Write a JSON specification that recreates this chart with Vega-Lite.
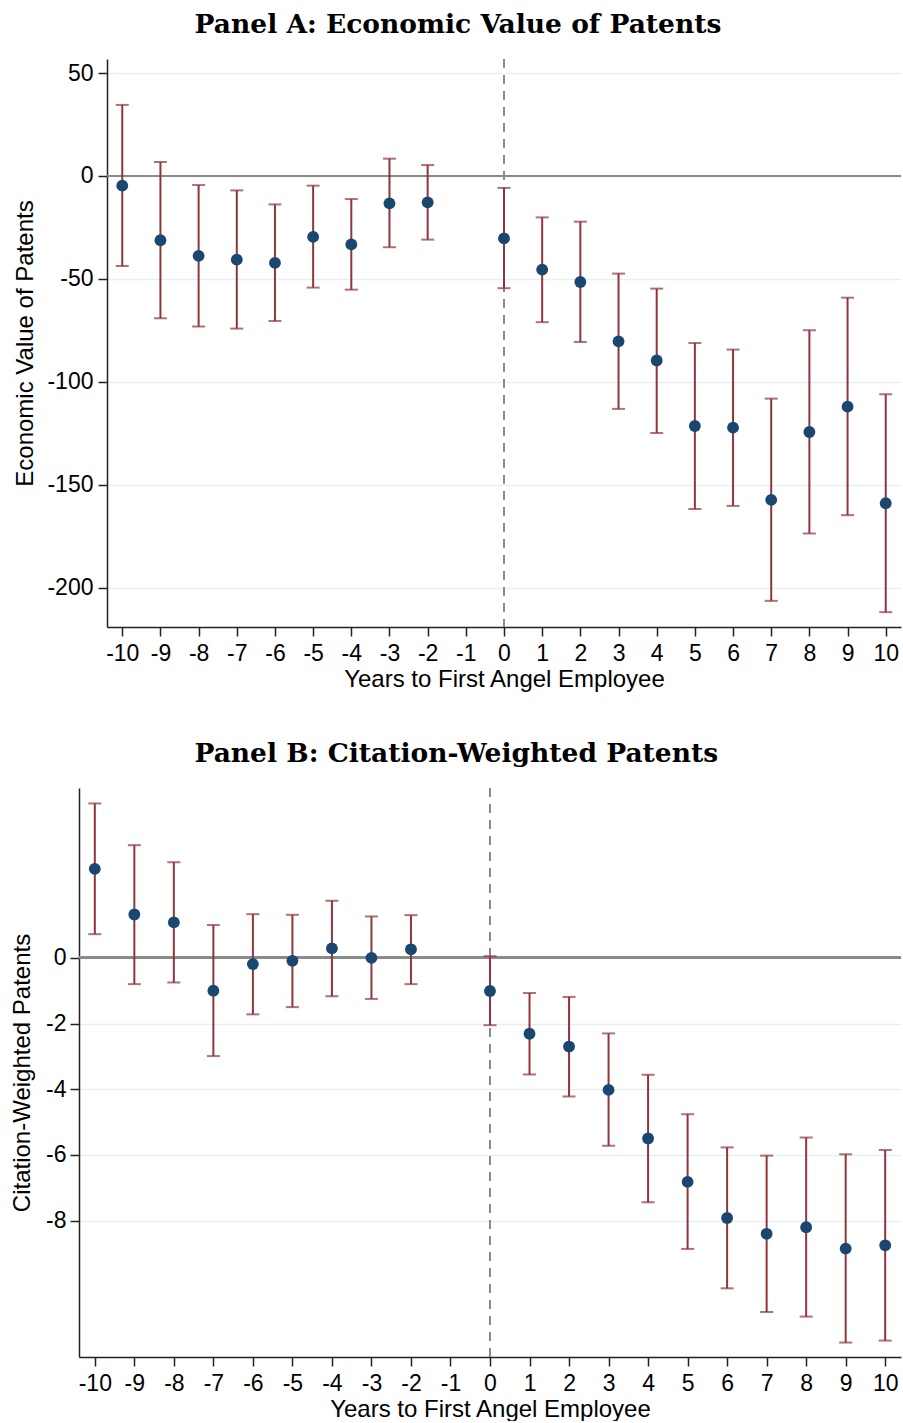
{
  "$schema": "https://vega.github.io/schema/vega-lite/v6.json",
  "background": "white",
  "padding": {"left": 10, "top": 11, "right": 1, "bottom": 0},
  "config": {
    "view": {"stroke": null},
    "font": "Liberation Sans",
    "axis": {
      "labelFont": "Liberation Sans", "titleFont": "Liberation Sans",
      "labelFontSize": 23, "titleFontSize": 24, "titleFontWeight": "normal",
      "labelColor": "#000", "titleColor": "#000",
      "domainColor": "#222", "domainWidth": 1.5,
      "tickColor": "#222", "tickWidth": 1.5, "tickSize": 9,
      "gridColor": "#e6eff2", "gridWidth": 1.5, "labelOverlap": false
    },
    "title": {"font": "DejaVu Serif", "fontSize": 26.5, "fontWeight": "bold", "color": "#000", "anchor": "middle", "frame": "bounds", "offset": 20}
  },
  "datasets": {
    "a": [
      {"t": -10, "b": -4.7, "lo": -43.7, "hi": 34.5},
      {"t": -9, "b": -31.2, "lo": -69.1, "hi": 6.8},
      {"t": -8, "b": -38.8, "lo": -73.1, "hi": -4.4},
      {"t": -7, "b": -40.6, "lo": -74.1, "hi": -7.0},
      {"t": -6, "b": -42.2, "lo": -70.4, "hi": -13.8},
      {"t": -5, "b": -29.6, "lo": -54.2, "hi": -4.7},
      {"t": -4, "b": -33.2, "lo": -55.2, "hi": -11.2},
      {"t": -3, "b": -13.3, "lo": -34.6, "hi": 8.4},
      {"t": -2, "b": -12.8, "lo": -30.9, "hi": 5.3},
      {"t": 0, "b": -30.3, "lo": -54.5, "hi": -5.8},
      {"t": 1, "b": -45.5, "lo": -71.0, "hi": -20.1},
      {"t": 2, "b": -51.5, "lo": -80.6, "hi": -22.2},
      {"t": 3, "b": -80.3, "lo": -113.1, "hi": -47.4},
      {"t": 4, "b": -89.6, "lo": -124.8, "hi": -54.7},
      {"t": 5, "b": -121.4, "lo": -161.7, "hi": -81.1},
      {"t": 6, "b": -122.2, "lo": -160.2, "hi": -84.3},
      {"t": 7, "b": -157.3, "lo": -206.3, "hi": -108.1},
      {"t": 8, "b": -124.3, "lo": -173.6, "hi": -74.9},
      {"t": 9, "b": -112.0, "lo": -164.7, "hi": -59.1},
      {"t": 10, "b": -158.9, "lo": -211.8, "hi": -106.0}
    ],
    "b": [
      {"t": -10, "b": 2.71, "lo": 0.72, "hi": 4.70},
      {"t": -9, "b": 1.32, "lo": -0.80, "hi": 3.43},
      {"t": -8, "b": 1.08, "lo": -0.75, "hi": 2.91},
      {"t": -7, "b": -1.00, "lo": -2.99, "hi": 1.00},
      {"t": -6, "b": -0.19, "lo": -1.72, "hi": 1.33},
      {"t": -5, "b": -0.09, "lo": -1.50, "hi": 1.31},
      {"t": -4, "b": 0.29, "lo": -1.17, "hi": 1.74},
      {"t": -3, "b": 0.0, "lo": -1.25, "hi": 1.26},
      {"t": -2, "b": 0.26, "lo": -0.80, "hi": 1.30},
      {"t": 0, "b": -1.01, "lo": -2.05, "hi": 0.05},
      {"t": 1, "b": -2.31, "lo": -3.55, "hi": -1.07},
      {"t": 2, "b": -2.70, "lo": -4.22, "hi": -1.19},
      {"t": 3, "b": -4.02, "lo": -5.72, "hi": -2.30},
      {"t": 4, "b": -5.50, "lo": -7.44, "hi": -3.56},
      {"t": 5, "b": -6.82, "lo": -8.86, "hi": -4.76},
      {"t": 6, "b": -7.92, "lo": -10.06, "hi": -5.77},
      {"t": 7, "b": -8.40, "lo": -10.78, "hi": -6.02},
      {"t": 8, "b": -8.20, "lo": -10.92, "hi": -5.47},
      {"t": 9, "b": -8.85, "lo": -11.71, "hi": -5.98},
      {"t": 10, "b": -8.75, "lo": -11.65, "hi": -5.85}
    ]
  },
  "concat": [
    {
      "width": 822, "height": 568,
      "title": {"text": "Panel A: Economic Value of Patents"},
      "data": {"name": "a"},
      "layer": [
        {"mark": {"type": "rule", "color": "#8a8a8a", "strokeWidth": 2},
         "encoding": {"y": {"datum": 0, "type": "quantitative", "title": "Economic Value of Patents"},
                      "x": {"datum": -10.4, "type": "quantitative", "title": "Years to First Angel Employee"},
                      "x2": {"datum": 10.4}}},
        {"mark": {"type": "rule", "color": "#8a8a8a", "strokeWidth": 1.5, "strokeDash": [9, 7]},
         "encoding": {"x": {"datum": 0, "type": "quantitative", "title": "Years to First Angel Employee"}}},
        {"mark": {"type": "rule", "color": "#90353b", "strokeWidth": 2},
         "encoding": {
           "x": {"field": "t", "type": "quantitative", "title": "Years to First Angel Employee",
                 "scale": {"domain": [-10.4, 10.4], "range": [28, 822], "nice": false, "zero": false},
                 "axis": {"values": [-10,-9,-8,-7,-6,-5,-4,-3,-2,-1,0,1,2,3,4,5,6,7,8,9,10], "grid": false, "labelExpr": "'' + datum.value", "labelPadding": 6, "titlePadding": 2, "labelFlush": false, "titleX": 425}},
           "y": {"field": "lo", "type": "quantitative", "title": "Economic Value of Patents",
                 "scale": {"domain": [-219, 56.8], "nice": false, "zero": false},
                 "axis": {"values": [50, 0, -50, -100, -150, -200], "grid": true, "labelExpr": "'' + datum.value", "labelPadding": 5, "titlePadding": 9, "offset": -28}},
           "y2": {"field": "hi"}
         }},
        {"mark": {"type": "tick", "orient": "horizontal", "color": "#90353b", "thickness": 2, "size": 13},
         "encoding": {"x": {"field": "t", "type": "quantitative", "title": "Years to First Angel Employee"},
                      "y": {"field": "lo", "type": "quantitative", "title": "Economic Value of Patents"}}},
        {"mark": {"type": "tick", "orient": "horizontal", "color": "#90353b", "thickness": 2, "size": 13},
         "encoding": {"x": {"field": "t", "type": "quantitative", "title": "Years to First Angel Employee"},
                      "y": {"field": "hi", "type": "quantitative", "title": "Economic Value of Patents"}}},
        {"mark": {"type": "point", "filled": true, "color": "#1a476f", "size": 140, "opacity": 1},
         "encoding": {"x": {"field": "t", "type": "quantitative", "title": "Years to First Angel Employee"},
                      "y": {"field": "b", "type": "quantitative", "title": "Economic Value of Patents"}}}
      ]
    },
    {
      "width": 822, "height": 569,
      "title": {"text": "Panel B: Citation-Weighted Patents"},
      "data": {"name": "b"},
      "layer": [
        {"mark": {"type": "rule", "color": "#8a8a8a", "strokeWidth": 2},
         "encoding": {"y": {"datum": 0, "type": "quantitative", "title": "Citation-Weighted Patents"}}},
        {"mark": {"type": "rule", "color": "#8a8a8a", "strokeWidth": 1.5, "strokeDash": [9, 7]},
         "encoding": {"x": {"datum": 0, "type": "quantitative", "title": "Years to First Angel Employee"}}},
        {"mark": {"type": "rule", "color": "#90353b", "strokeWidth": 2},
         "encoding": {
           "x": {"field": "t", "type": "quantitative", "title": "Years to First Angel Employee",
                 "scale": {"domain": [-10.4, 10.4], "nice": false, "zero": false},
                 "axis": {"values": [-10,-9,-8,-7,-6,-5,-4,-3,-2,-1,0,1,2,3,4,5,6,7,8,9,10], "grid": false, "labelExpr": "'' + datum.value", "labelPadding": 6, "titlePadding": 2, "labelFlush": false}},
           "y": {"field": "lo", "type": "quantitative", "title": "Citation-Weighted Patents",
                 "scale": {"domain": [-12.15, 5.17], "nice": false, "zero": false},
                 "axis": {"values": [0, -2, -4, -6, -8], "grid": true, "labelExpr": "'' + datum.value", "labelPadding": 4, "titlePadding": 11}},
           "y2": {"field": "hi"}
         }},
        {"mark": {"type": "tick", "orient": "horizontal", "color": "#90353b", "thickness": 2, "size": 13},
         "encoding": {"x": {"field": "t", "type": "quantitative", "title": "Years to First Angel Employee"},
                      "y": {"field": "lo", "type": "quantitative", "title": "Citation-Weighted Patents"}}},
        {"mark": {"type": "tick", "orient": "horizontal", "color": "#90353b", "thickness": 2, "size": 13},
         "encoding": {"x": {"field": "t", "type": "quantitative", "title": "Years to First Angel Employee"},
                      "y": {"field": "hi", "type": "quantitative", "title": "Citation-Weighted Patents"}}},
        {"mark": {"type": "point", "filled": true, "color": "#1a476f", "size": 140, "opacity": 1},
         "encoding": {"x": {"field": "t", "type": "quantitative", "title": "Years to First Angel Employee"},
                      "y": {"field": "b", "type": "quantitative", "title": "Citation-Weighted Patents"}}}
      ]
    }
  ],
  "columns": 1,
  "spacing": 49
}
